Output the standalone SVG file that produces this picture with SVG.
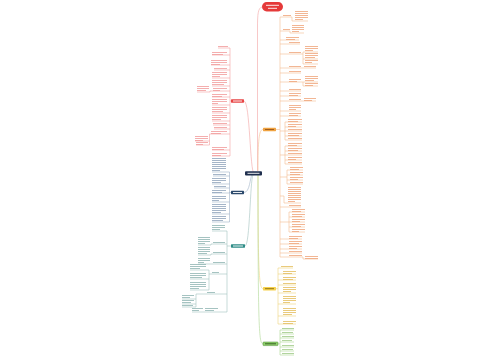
<svg xmlns="http://www.w3.org/2000/svg" width="500" height="360" viewBox="0 0 500 360">
<style>
.t{fill:none;stroke-width:1;opacity:0.8}
.tr{stroke:#f29a9a}.to{stroke:#efa57a}.tb{stroke:#8fa3bb}.tt{stroke:#8fb5b2}.ty{stroke:#e4bd5c}.tg{stroke:#9fca86}
.c{fill:none;stroke-width:0.6}
.cr{stroke:#f4a3a3}.co{stroke:#f3bd90}.cb{stroke:#9fb2c7}.ct{stroke:#a3c3c0}.cy{stroke:#eed47c}.cg{stroke:#acd792}
.nb{fill:none;stroke-width:0.9}
</style>
<rect width="500" height="360" fill="#fff"/>
<g id="connectors">
<path class="c cr" d="M262,7C258,8 257.5,14 257.5,28V171"/>
<path class="c cr" d="M254,173C250,173 250,101 244,101"/>
<path class="c cb" d="M252,175C250,177 250,192.5 244,192.5"/>
<path class="c ct" d="M253,175C250,180 250,246 245,246"/>
<path class="c co" d="M258,171C258,140 259,129.5 263,129.5"/>
<path class="c cy" d="M258,175C258,270 259,288.7 263,288.7"/>
<path class="c cg" d="M258,175C258,330 259,343.8 263,343.8"/>
<path class="c cr" d="M230,48V156M230,101H231M230,48H218M230,55H212M230,65H211M230,70H214M230,78H212M230,86H212M230,91H213M213,91H210V92H197M230,97H212M230,105H212M230,113H212M230,121H212M230,125H213M230,129H214M230,134H211M211,134H209.5V145M209.5,141H195M209.5,145H196M230,150H212M230,156H212"/>
<path class="c cb" d="M229.5,172V222M229.5,192.5H231M229.5,172H212M229.5,176H213M229.5,184H212M229.5,188H214M229.5,193H212M229.5,202H212M229.5,214H212M229.5,222H212"/>
<path class="c ct" d="M227,231V312M227,246H231M227,231H212M227,244H213M213,244H211V245H198M227,254H213M213,254H211V255H198M227,264H198M227,274H212M212,274H209M209,270V290M209,270H190M209,279H190M209,290H190M227,294H207M207,294H196V307M196,299H182M196,304H182M196,307H182M227,312H192"/>
<path class="c co" d="M280,17V257M276,129.5H280M280,17H292V21H308M280,31H290V33H304M280,40H299M280,44H300M280,54H303M303,52V64M303,52H318M303,59H318M303,64H318M280,68H316M280,73H301M280,82H318M303,82V86H318M280,91H301M280,96H301M280,101H316M280,111H301M280,116H301M280,131H285M285,122V140M285,122H302M285,127H302M285,131H302M285,136H302M285,140H302M280,155H285M285,146V164M285,146H302M285,151H302M285,155H302M285,160H302M285,164H302M280,177H287M287,170V184M287,170H303M287,175H303M287,180H303M287,184H303M280,196H284V203H301M280,207H301M280,222H289M289,212V232M289,212H305M289,217H305M289,222H305M289,227H305M289,232H305M280,239H302M280,244H302M280,249H302M280,253H302M280,257H303V259H318"/>
<path class="c cy" d="M278,268V324M276,288.7H278M278,268H293M278,274H296M278,280H296M278,285H296M278,293H296M278,304H296M278,316H296M278,324H296"/>
<path class="c cg" d="M280,330V355M278,343.8H280M280,330H294M280,334H294M280,338H294M280,342H294M280,347H294M280,351H294M280,355H294"/>
</g>
<g id="root">
<rect x="262" y="2" width="21" height="9.5" rx="4.7" fill="#e53a3a"/>
<path class="nb" stroke="#fff" d="M266,5.3h13M268,8.3h9"/>
</g>
<g id="center">
<rect x="245" y="171.2" width="17" height="4.3" rx="1" fill="#1e2e4d"/>
<path class="nb" stroke="#fff" d="M247.5,173.3h12"/>
</g>
<g id="branch-red">
<rect x="231" y="99.3" width="13" height="3.4" rx="0.6" fill="#e84545"/>
<path class="nb" stroke="#fff" d="M233,101h9"/>
</g>
<g id="branch-blue">
<rect x="231" y="190.8" width="13" height="3.4" rx="0.6" fill="#2c4a6c"/>
<path class="nb" stroke="#fff" d="M233,192.5h9"/>
</g>
<g id="branch-teal">
<rect x="231" y="244.3" width="14" height="3.4" rx="0.6" fill="#2e8c87"/>
<path class="nb" stroke="#fff" d="M233,246h10"/>
</g>
<g id="branch-orange">
<rect x="263" y="127.8" width="13" height="3.4" rx="0.6" fill="#f0a341"/>
<path class="nb" stroke="#9a5518" d="M265,129.5h9"/>
</g>
<g id="branch-yellow">
<rect x="263" y="287" width="13" height="3.4" rx="0.6" fill="#f7d24c"/>
<path class="nb" stroke="#8a6d10" d="M265,288.7h9"/>
</g>
<g id="branch-green">
<rect x="263" y="342" width="15" height="3.6" rx="0.6" fill="#8fd06c" stroke="#4a8a30" stroke-width="0.5"/>
<path class="nb" stroke="#2d5a1a" d="M265,343.8h11"/>
</g>
<g id="leaves-red" class="t tr">
<path d="M218,46.5h10"/>
<path d="M212,52.5h15M212,54.5h11"/>
<path d="M211,60.5h16M211,62.5h16M211,64.5h9"/>
<path d="M214,68.5h13"/>
<path d="M212,72.5h15M212,74.5h15M212,76.5h8"/>
<path d="M212,80.5h15M212,82.5h15M212,84.5h12"/>
<path d="M213,88.5h14M213,90.5h7"/>
<path d="M197,86.5h12M197,88.5h12M197,90.5h9"/>
<path d="M212,94.5h15M212,96.5h10"/>
<path d="M212,99.5h15M212,101.5h15M212,103.5h6"/>
<path d="M212,107.5h15M212,109.5h15M212,111.5h11"/>
<path d="M212,115.5h15M212,117.5h15M212,119.5h9"/>
<path d="M213,123.5h14"/>
<path d="M214,127.5h13"/>
<path d="M211,131.5h16M211,133.5h10"/>
<path d="M195,136.5h13M195,138.5h13M195,140.5h8"/>
<path d="M196,142.5h12M196,144.5h7"/>
<path d="M212,147.5h15M212,149.5h12"/>
<path d="M212,153.5h15M212,155.5h9"/>
</g>
<g id="leaves-blue" class="t tb">
<path d="M212,158.5h14M212,160.5h14M212,162.5h14M212,164.5h14M212,166.5h14M212,168.5h14M212,170.5h8"/>
<path d="M213,174.5h13"/>
<path d="M212,178.5h14M212,180.5h14M212,182.5h9"/>
<path d="M214,186.5h12"/>
<path d="M212,190.5h14M212,192.5h10"/>
<path d="M212,196.5h14M212,198.5h14M212,200.5h7"/>
<path d="M212,204.5h14M212,206.5h14M212,208.5h14M212,210.5h14M212,212.5h9"/>
<path d="M212,216.5h14M212,218.5h14M212,220.5h11"/>
</g>
<g id="leaves-teal" class="t tt">
<path d="M212,225.5h13M212,227.5h13M212,229.5h8"/>
<path d="M213,242.5h12"/>
<path d="M198,237.5h12M198,239.5h12M198,241.5h12M198,243.5h7"/>
<path d="M213,252.5h12"/>
<path d="M198,247.5h12M198,249.5h12M198,251.5h12M198,253.5h9"/>
<path d="M213,262.5h12"/>
<path d="M198,258.5h12M198,260.5h12M198,262.5h6"/>
<path d="M212,272.5h7"/>
<path d="M190,264.5h16M190,266.5h16M190,268.5h10"/>
<path d="M190,273.5h16M190,275.5h16M190,277.5h12"/>
<path d="M190,282.5h16M190,284.5h16M190,286.5h16M190,288.5h9"/>
<path d="M207,292.5h8"/>
<path d="M182,295.5h12M182,297.5h8"/>
<path d="M182,300.5h12M182,302.5h9"/>
<path d="M182,305.5h11"/>
<path d="M205,308.5h13M205,310.5h9"/>
<path d="M192,308.5h11M192,310.5h7"/>
</g>
<g id="leaves-orange" class="t to">
<path d="M283,15.5h8"/>
<path d="M295,11.5h13M295,13.5h13M295,15.5h13M295,17.5h13M295,19.5h8"/>
<path d="M283,29.5h7"/>
<path d="M292,25.5h12M292,27.5h12M292,29.5h12M292,31.5h7"/>
<path d="M286,37.5h13M286,39.5h9"/>
<path d="M289,42.5h11"/>
<path d="M289,52.5h12"/>
<path d="M305,46.5h13M305,48.5h13M305,50.5h8"/>
<path d="M305,53.5h13M305,55.5h13M305,57.5h10"/>
<path d="M305,60.5h13M305,62.5h7"/>
<path d="M289,66.5h12"/>
<path d="M304,66.5h12"/>
<path d="M289,71.5h12"/>
<path d="M289,79.5h12M289,81.5h8"/>
<path d="M305,76.5h13M305,78.5h13M305,80.5h9"/>
<path d="M305,83.5h13M305,85.5h8"/>
<path d="M289,89.5h12"/>
<path d="M289,93.5h12M289,95.5h9"/>
<path d="M289,99.5h12"/>
<path d="M304,98.5h12M304,100.5h8"/>
<path d="M289,105.5h12M289,107.5h12M289,109.5h7"/>
<path d="M289,113.5h12M289,115.5h9"/>
<path d="M288,119.5h14M288,121.5h10"/>
<path d="M288,124.5h14M288,126.5h8"/>
<path d="M288,129.5h14"/>
<path d="M288,133.5h14M288,135.5h11"/>
<path d="M288,138.5h14"/>
<path d="M288,143.5h14M288,145.5h9"/>
<path d="M288,148.5h14M288,150.5h10"/>
<path d="M288,153.5h14"/>
<path d="M288,157.5h14M288,159.5h8"/>
<path d="M288,162.5h14"/>
<path d="M290,167.5h13M290,169.5h9"/>
<path d="M290,172.5h13M290,174.5h10"/>
<path d="M290,177.5h13M290,179.5h8"/>
<path d="M290,182.5h13"/>
<path d="M288,187.5h13M288,189.5h13M288,191.5h13M288,193.5h13M288,195.5h13M288,197.5h13M288,199.5h13M288,201.5h7"/>
<path d="M289,205.5h12"/>
<path d="M292,209.5h13M292,211.5h9"/>
<path d="M292,214.5h13M292,216.5h10"/>
<path d="M292,219.5h13M292,221.5h8"/>
<path d="M292,224.5h13M292,226.5h9"/>
<path d="M292,229.5h13M292,231.5h7"/>
<path d="M289,236.5h13M289,238.5h9"/>
<path d="M289,241.5h13M289,243.5h10"/>
<path d="M289,246.5h13M289,248.5h8"/>
<path d="M289,251.5h13"/>
<path d="M289,255.5h13"/>
<path d="M305,256.5h13M305,258.5h13"/>
</g>
<g id="leaves-yellow" class="t ty">
<path d="M281,266.5h12"/>
<path d="M283,271.5h13M283,273.5h9"/>
<path d="M283,277.5h13M283,279.5h10"/>
<path d="M283,283.5h13"/>
<path d="M283,287.5h13M283,289.5h13M283,291.5h8"/>
<path d="M283,296.5h13M283,298.5h13M283,300.5h13M283,302.5h7"/>
<path d="M283,308.5h13M283,310.5h13M283,312.5h13M283,314.5h9"/>
<path d="M283,321.5h13M283,323.5h10"/>
</g>
<g id="leaves-green" class="t tg">
<path d="M282,328.5h12"/>
<path d="M282,332.5h11"/>
<path d="M282,336.5h12"/>
<path d="M282,340.5h10"/>
<path d="M282,345.5h12"/>
<path d="M282,349.5h11"/>
<path d="M282,353.5h12"/>
</g>
</svg>
